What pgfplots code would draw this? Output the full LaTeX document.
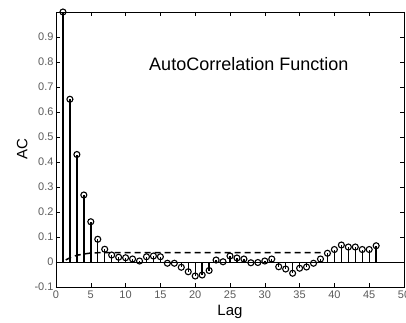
\documentclass[border=0pt]{standalone}
\usepackage{fontspec}
\setmainfont{Liberation Sans}
\usepackage{pgfplots}
\pgfplotsset{compat=1.18}
\definecolor{ticklab}{HTML}{5A5A5A}
\begin{document}
\begin{tikzpicture}
\begin{axis}[
  name=ax,
  scale only axis,
  width=348pt, height=275pt,
  xmin=0, xmax=50, ymin=-0.1, ymax=1,
  xtick={0,5,...,50},
  ytick={-0.1,0,0.1,0.2,0.3,0.4,0.5,0.6,0.7,0.8,0.9},
  yticklabel style={/pgf/number format/fixed, /pgf/number format/precision=1, xshift=1pt},
  /pgf/number format/assume math mode=true,
  tick label style={font=\fontsize{11}{13}\selectfont, text=ticklab},
  tick align=inside,
  major tick length=4pt,
  axis line style={line width=0.8pt},
  every tick/.style={black, line width=0.6pt},
  xlabel={Lag}, ylabel={AC},
  label style={font=\fontsize{15}{18}\selectfont},
  xlabel style={yshift=0pt},
  ylabel style={yshift=0pt},
  clip=false,
]
\addplot[black, line width=0.8pt, forget plot] coordinates {(0,0) (50,0)};
\addplot[black, line width=1.5pt, dash pattern=on 6pt off 4pt] coordinates {
(1.4,0.008) (2,0.017) (3,0.027) (4,0.032) (5,0.036) (7,0.038) (38.6,0.038)};
\addplot[black, line width=1.4pt, ycomb, mark=o, mark size=3pt, mark options={solid, line width=1.1pt}] coordinates {
(1,1.0) (2,0.651) (3,0.43) (4,0.268) (5,0.161) (6,0.091) (7,0.051) (8,0.028)
(9,0.019) (10,0.017) (11,0.012) (12,0.004) (13,0.021) (14,0.024) (15,0.021)
(16,-0.005) (17,-0.005) (18,-0.021) (19,-0.039) (20,-0.056) (21,-0.052) (22,-0.034)
(23,0.008) (24,0.001) (25,0.024) (26,0.016) (27,0.012) (28,-0.003) (29,-0.002)
(30,0.004) (31,0.012) (32,-0.019) (33,-0.028) (34,-0.045) (35,-0.025) (36,-0.02)
(37,-0.005) (38,0.012) (39,0.035) (40,0.05) (41,0.068) (42,0.06) (43,0.06)
(44,0.05) (45,0.05) (46,0.065)};
\node[font=\fontsize{18}{21}\selectfont] at (axis cs:27.7,0.79) {AutoCorrelation Function};
\end{axis}
\pgfresetboundingbox
\path[use as bounding box] ([shift={(-56pt,-35pt)}]ax.south west) rectangle ([shift={(2pt,12pt)}]ax.north east);
\end{tikzpicture}
\end{document}
